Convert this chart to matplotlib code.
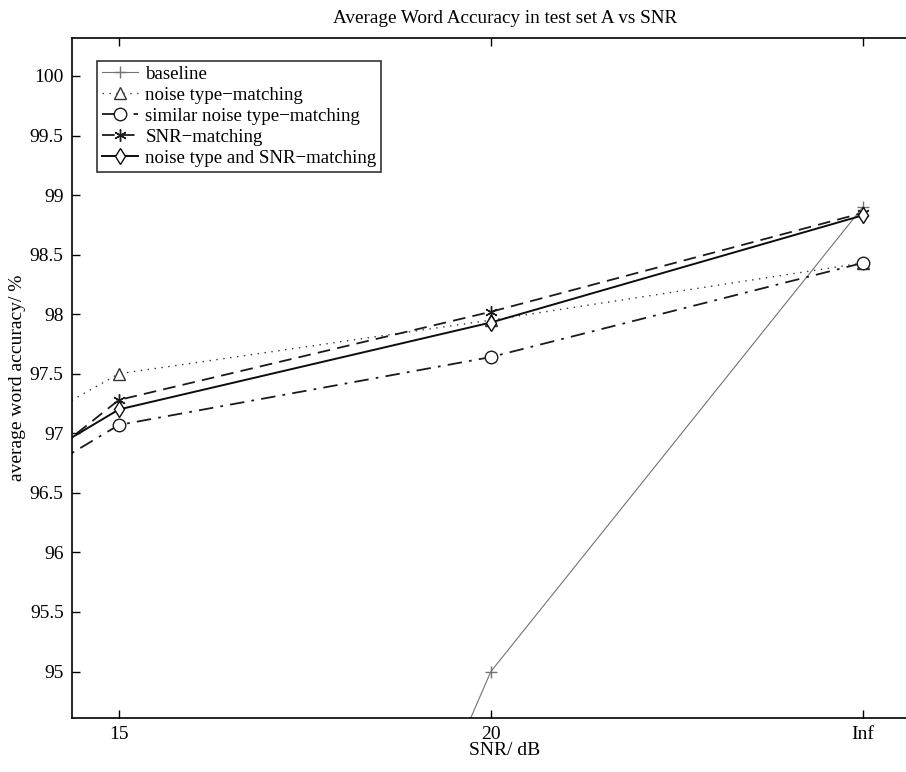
import matplotlib
matplotlib.use("Agg")
import matplotlib.pyplot as plt

plt.rcParams['font.family'] = ['Liberation Serif', 'DejaVu Serif']

# x positions: 10 dB, 15 dB, 20 dB, clean (Inf)
snr_pos = [-1, 0, 1, 2]
tick_pos = [0, 1, 2]
tick_labels = ['15', '20', 'Inf']

baseline = [80.5, 87.8, 95.0, 98.9]
noise_type = [95.74, 97.5, 97.95, 98.43]
similar_noise = [95.2, 97.07, 97.64, 98.43]
snr_match = [94.8, 97.28, 98.02, 98.85]
noise_snr = [95.34, 97.2, 97.93, 98.83]

fig = plt.figure(figsize=(9.06, 7.72), dpi=100)
ax = fig.add_axes([0.0795, 0.070, 0.955, 0.881])

ax.plot(snr_pos, baseline, color='0.45', lw=0.8, marker='+', ms=9,
        label='baseline')
ax.plot(snr_pos, noise_type, color='0.2', lw=1.0, ls=(0, (1, 4)), marker='^',
        ms=8.5, mfc='white', mec='0.2', label='noise type\u2212matching')
ax.plot(snr_pos, similar_noise, color='0.1', lw=1.3, ls=(0, (8, 4, 1.5, 4)),
        marker='o', ms=9, mfc='white', mec='0.1',
        label='similar noise type\u2212matching')
ax.plot(snr_pos, snr_match, color='0.1', lw=1.3, ls=(0, (7, 4)),
        marker=(6, 2, 0), ms=9, mec='0.1', label='SNR\u2212matching')
ax.plot(snr_pos, noise_snr, color='0.05', lw=1.4, marker='d', ms=8.5,
        mfc='white', mec='0.05', label='noise type and SNR\u2212matching')

ax.set_xlim(-0.126, 2.2)
ax.set_ylim(94.61, 100.32)
ax.set_xticks(tick_pos)
ax.set_xticklabels(tick_labels)
ax.set_yticks([95, 95.5, 96, 96.5, 97, 97.5, 98, 98.5, 99, 99.5, 100])
ax.set_yticklabels(['95', '95.5', '96', '96.5', '97', '97.5', '98', '98.5',
                    '99', '99.5', '100'])
ax.tick_params(direction='in', top=True, right=True, length=6, width=1,
               labelsize=14, pad=6)
for s in ax.spines.values():
    s.set_linewidth(1.2)

ax.set_title('Average Word Accuracy in test set A vs SNR', fontsize=13.8, pad=11)
ax.set_xlabel('SNR/ dB', fontsize=14, labelpad=-1)
ax.set_ylabel('average word accuracy/ %', fontsize=14, labelpad=3)

leg = ax.legend(loc='upper left', bbox_to_anchor=(0.029, 0.966), fontsize=13.6,
                frameon=True, fancybox=False, edgecolor='black',
                handlelength=1.9, handletextpad=0.4, borderpad=0.25,
                labelspacing=0.2, borderaxespad=0)
leg.get_frame().set_linewidth(1.2)

fig.savefig('out.png', dpi=100)
